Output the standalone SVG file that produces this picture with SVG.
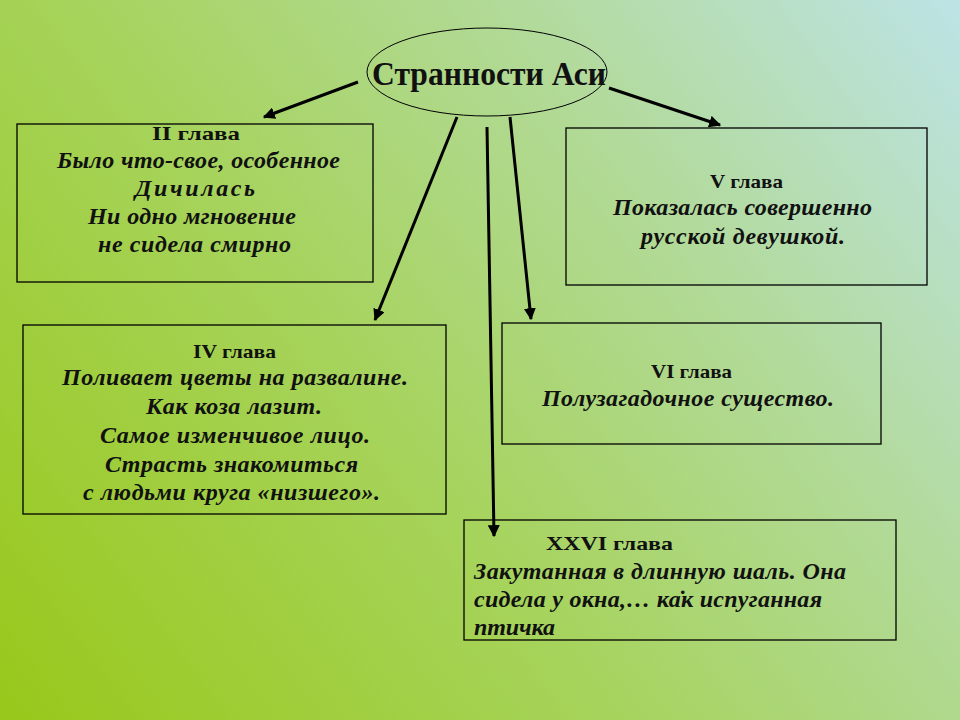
<svg xmlns="http://www.w3.org/2000/svg" width="960" height="720" viewBox="0 0 960 720">
<defs>
<linearGradient id="bg" x1="0" y1="720" x2="960" y2="0" gradientUnits="userSpaceOnUse">
<stop offset="0" stop-color="#98c81a"/>
<stop offset="0.4" stop-color="#a6d35a"/>
<stop offset="0.7" stop-color="#b2da9a"/>
<stop offset="1" stop-color="#bde3e6"/>
</linearGradient>
<marker id="ah" viewBox="0 0 10 10" refX="9" refY="5" markerWidth="4" markerHeight="4" orient="auto" markerUnits="strokeWidth">
<path d="M0,0 L10,5 L0,10 z" fill="#000"/>
</marker>
<style>
.box{fill:none;stroke:#000;stroke-width:1.3}
.conn{stroke:#000;stroke-width:3;fill:none;marker-end:url(#ah)}
.h{font-family:"Liberation Serif",serif;font-weight:bold;font-size:19px;fill:#111}
.t{font-family:"Liberation Serif",serif;font-weight:bold;font-style:italic;font-size:24px;fill:#111}
</style>
</defs>
<rect width="960" height="720" fill="url(#bg)"/>
<g id="connectors">
<line class="conn" x1="358" y1="82" x2="264" y2="117"/>
<line class="conn" x1="609" y1="88" x2="720" y2="125"/>
<line class="conn" x1="457" y1="117" x2="375" y2="320"/>
<line class="conn" x1="487" y1="127" x2="494" y2="536"/>
<line class="conn" x1="510" y1="117" x2="531" y2="319"/>
</g>
<g id="center">
<ellipse cx="487" cy="72" rx="120" ry="44" fill="none" stroke="#000" stroke-width="1"/>
<text x="372" y="85" font-family="Liberation Serif, serif" font-weight="bold" font-size="34" fill="#111" textLength="234" lengthAdjust="spacingAndGlyphs">Странности Аси</text>
</g>
<g id="ch2">
<rect class="box" x="17" y="124" width="356" height="158"/>
<text class="h" x="152" y="140" textLength="88" lengthAdjust="spacingAndGlyphs">II глава</text>
<text class="t" x="57" y="168" textLength="283">Было что-свое, особенное</text>
<text class="t" x="135" y="196" textLength="120">Дичилась</text>
<text class="t" x="88" y="224" textLength="208">Ни одно мгновение</text>
<text class="t" x="98" y="252" textLength="193">не сидела смирно</text>
</g>
<g id="ch5">
<rect class="box" x="566" y="128" width="361" height="157"/>
<text class="h" x="710" y="188" textLength="73" lengthAdjust="spacingAndGlyphs">V глава</text>
<text class="t" x="613" y="215" textLength="259">Показалась совершенно</text>
<text class="t" x="641" y="244" textLength="204">русской девушкой.</text>
</g>
<g id="ch4">
<rect class="box" x="23" y="325" width="423" height="189"/>
<text class="h" x="193" y="358" textLength="83" lengthAdjust="spacingAndGlyphs">IV глава</text>
<text class="t" x="62" y="385" textLength="346">Поливает цветы на развалине.</text>
<text class="t" x="146" y="414" textLength="176">Как коза лазит.</text>
<text class="t" x="100" y="443" textLength="270">Самое изменчивое лицо.</text>
<text class="t" x="105" y="472" textLength="253">Страсть знакомиться</text>
<text class="t" x="83" y="500" textLength="297">с людьми круга «низшего».</text>
</g>
<g id="ch6">
<rect class="box" x="502" y="323" width="379" height="121"/>
<text class="h" x="651" y="378" textLength="81" lengthAdjust="spacingAndGlyphs">VI глава</text>
<text class="t" x="542" y="406" textLength="292">Полузагадочное существо.</text>
</g>
<g id="ch26">
<rect class="box" x="464" y="520" width="432" height="120"/>
<text class="h" x="546" y="550" textLength="127" lengthAdjust="spacingAndGlyphs">XXVI глава</text>
<text class="t" x="474" y="579" textLength="372">Закутанная в длинную шаль. Она</text>
<text class="t" x="474" y="607" textLength="348">сидела у окна,… ка̇к испуганная</text>
<text class="t" x="474" y="635" textLength="81">птичка</text>
</g>
</svg>
